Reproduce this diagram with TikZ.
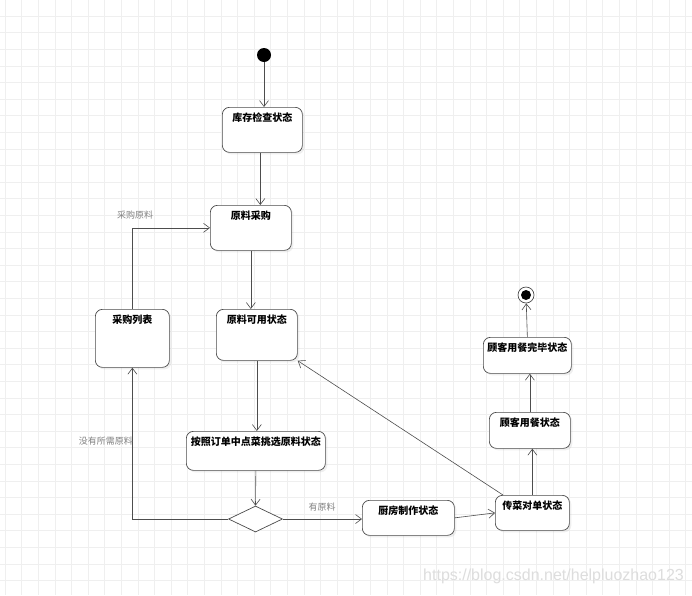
\documentclass[tikz,border=0pt]{standalone}
\usepackage{fontspec}
\newfontfamily\cjk{Noto Sans CJK SC}
\setsansfont{Liberation Sans}
\usetikzlibrary{arrows.meta,shapes.geometric,shadows}
\definecolor{gridgrey}{HTML}{EFEFEF}
\definecolor{boxline}{HTML}{4A4A4A}
\definecolor{arrline}{HTML}{4D4D4D}
\definecolor{lblgrey}{HTML}{808080}
\definecolor{markgrey}{HTML}{DDDDDD}

\begin{document}
\begin{tikzpicture}[x=1pt,y=-1pt,
  stbox/.style={draw=boxline,line width=0.7pt,fill=white,rounded corners=7pt,anchor=north west,
    inner xsep=0pt,inner ysep=4pt,text height=10pt,
    font=\cjk\bfseries\fontsize{10}{12}\selectfont,
    drop shadow={shadow xshift=2pt,shadow yshift=-2pt,opacity=0.12}},
  arr/.style={draw=arrline,line width=0.6pt,-{Straight Barb[length=6pt,width=9pt]}},
  lbl/.style={font=\cjk\fontsize{9}{11}\selectfont,text=lblgrey,inner sep=0pt}]
  \useasboundingbox (0,0) rectangle (692,595);
  \fill[white] (0,0) rectangle (692,595);
  \foreach \i in {0,...,41}
    \draw[gridgrey] ({5+16.6*\i},0) -- ({5+16.6*\i},595);
  \foreach \i in {1,...,35}
    \draw[gridgrey] (0,{16.6*\i-0.6}) -- (692,{16.6*\i-0.6});

  \node[circle,fill=black,minimum size=14pt,inner sep=0pt] (start) at (264,55) {};
  \node[circle,draw=boxline,line width=0.7pt,fill=white,minimum size=16pt,inner sep=0pt,
    path picture={\fill[black] (path picture bounding box.center) circle (5pt);}] (finish) at (526,295) {};
  \foreach \nm/\x/\y/\w/\d/\txt in {
      kucun/222/107/80/27/库存检查状态,
      caigou/210/205/81/27/原料采购,
      liebiao/95/309/74/40/采购列表,
      keyong/216/309/81/33/原料可用状态,
      tiaoxuan/186/431/139/21/按照订单中点菜挑选原料状态,
      chufang/362/500/92/17/厨房制作状态,
      chuancai/495/495/74/17/传菜对单状态,
      yongcan/489/412/81/18/顾客用餐状态,
      wanbi/483/337/88/18/顾客用餐完毕状态}
    \node[stbox,minimum width=\w pt,text depth=\d pt] (\nm) at (\x,\y) {\txt};
  \node[diamond,draw=boxline,line width=0.7pt,fill=white,minimum width=54pt,minimum height=26pt,inner sep=0pt] (panduan) at (255.5,519) {};

  \draw[arr] (start) -- (start |- kucun.north);
  \draw[arr] ([xshift=-2pt]kucun.south) -- ([xshift=-2pt]kucun.south |- caigou.north);
  \draw[arr] (caigou.south) -- (caigou.south |- keyong.north);
  \draw[arr] (keyong.south) -- (keyong.south |- tiaoxuan.north);
  \draw[arr] (tiaoxuan.south) -- (panduan.north);
  \draw[arr] (panduan.west) -| (liebiao.south);
  \draw[arr] (liebiao.north) |- (caigou.west);
  \draw[arr] (panduan.east) -- (panduan.east -| chufang.west);
  \draw[arr] (chufang.east) -- (chuancai.west);
  \draw[arr] ([xshift=8pt]chuancai.north west) -- (keyong.south east);
  \draw[arr] (chuancai.north) -- (chuancai.north |- yongcan.south);
  \draw[arr] (yongcan.north) -- (yongcan.north |- wanbi.south);
  \draw[arr] (wanbi.north) -- (finish);

  \node[lbl] (lcaigou) at (135,215) {采购原料};
  \node[lbl,anchor=east] (lmeiyou) at (133,441) {没有所需原料};
  \node[lbl] (lyou) at (322,507) {有原料};
  \node[font=\sffamily\fontsize{16}{18}\selectfont,text=markgrey,anchor=west,inner sep=0pt] (mark) at (423,576) {https://blog.csdn.net/helpluozhao123};
\end{tikzpicture}
\end{document}
